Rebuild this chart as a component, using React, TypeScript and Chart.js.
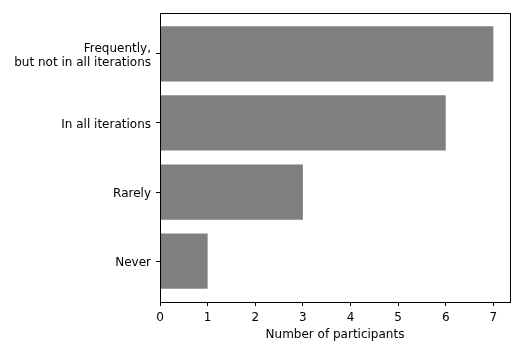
import React, { useEffect, useRef } from "react";
import { Chart, registerables } from "chart.js";

Chart.register(...registerables);

const categories = ["Never", "Rarely", "In all iterations", "Frequently,\nbut not in all iterations"];
const participants = [1, 3, 6, 7];
const xTicks = [0, 1, 2, 3, 4, 5, 6, 7];

const FONT = "'DejaVu Sans', sans-serif";

const framePlugin = {
  id: "frame",
  afterDraw(chart: any) {
    const { ctx, chartArea } = chart;
    ctx.save();
    ctx.strokeStyle = "#000";
    ctx.lineWidth = 1;
    ctx.strokeRect(
      Math.round(chartArea.left) + 0.5,
      Math.round(chartArea.top) + 0.5,
      Math.round(chartArea.right - chartArea.left),
      Math.round(chartArea.bottom - chartArea.top)
    );
    ctx.restore();
  },
};

export default function App() {
  const ref = useRef<HTMLCanvasElement | null>(null);

  useEffect(() => {
    document.body.style.margin = "0";
    const canvas = ref.current;
    if (!canvas) return;
    const data = participants.map((v, i) => ({ x: v, y: i }));
    const chart = new Chart(canvas, {
      type: "bar",
      data: {
        datasets: [
          {
            data: data as any,
            backgroundColor: "#7f7f7f",
            borderWidth: 0,
            categoryPercentage: 1,
            barPercentage: 0.8,
          },
        ],
      },
      plugins: [framePlugin],
      options: {
        indexAxis: "y",
        animation: false,
        responsive: false,
        maintainAspectRatio: false,
        layout: { padding: { left: 0, right: 21, top: 13, bottom: 12 } },
        plugins: { legend: { display: false }, tooltip: { enabled: false } },
        scales: {
          x: {
            type: "linear",
            min: 0,
            max: 7.35,
            offset: false,
            afterBuildTicks: (s: any) => {
              s.ticks = xTicks.map((v) => ({ value: v }));
            },
            afterFit: (s: any) => {
              s.height = 40;
              s.paddingLeft = 0;
              s.paddingRight = 0;
            },
            grid: { display: true, offset: false, drawOnChartArea: false, drawTicks: true, tickLength: 4, color: "#000" },
            border: { display: true, color: "#000", width: 1 },
            ticks: { color: "#000", font: { family: FONT, size: 12 }, padding: 5, maxRotation: 0 },
            title: {
              display: true,
              text: "Number of participants",
              color: "#000",
              font: { family: FONT, size: 12 },
              padding: { top: 2, bottom: 0 },
            },
          },
          y: {
            type: "linear",
            min: -0.59,
            max: 3.59,
            offset: false,
            afterBuildTicks: (s: any) => {
              s.ticks = categories.map((_, i) => ({ value: i }));
            },
            afterFit: (s: any) => {
              s.width = 160;
              s.paddingTop = 0;
              s.paddingBottom = 0;
            },
            grid: { display: true, offset: false, drawOnChartArea: false, drawTicks: true, tickLength: 4, color: "#000" },
            border: { display: true, color: "#000", width: 1 },
            ticks: {
              color: "#000",
              font: { family: FONT, size: 12 },
              padding: 5,
              labelOffset: 2,
              callback: (v: any) => {
                const lab = categories[Math.round(Number(v))];
                return lab ? lab.split("\n") : "";
              },
            },
          },
        },
      },
    });
    return () => chart.destroy();
  }, []);

  return (
    <div style={{ position: "absolute", left: 0, top: 0, width: 531, height: 354, background: "#fff" }}>
      <canvas ref={ref} width={531} height={354} style={{ width: 531, height: 354 }} />
    </div>
  );
}
